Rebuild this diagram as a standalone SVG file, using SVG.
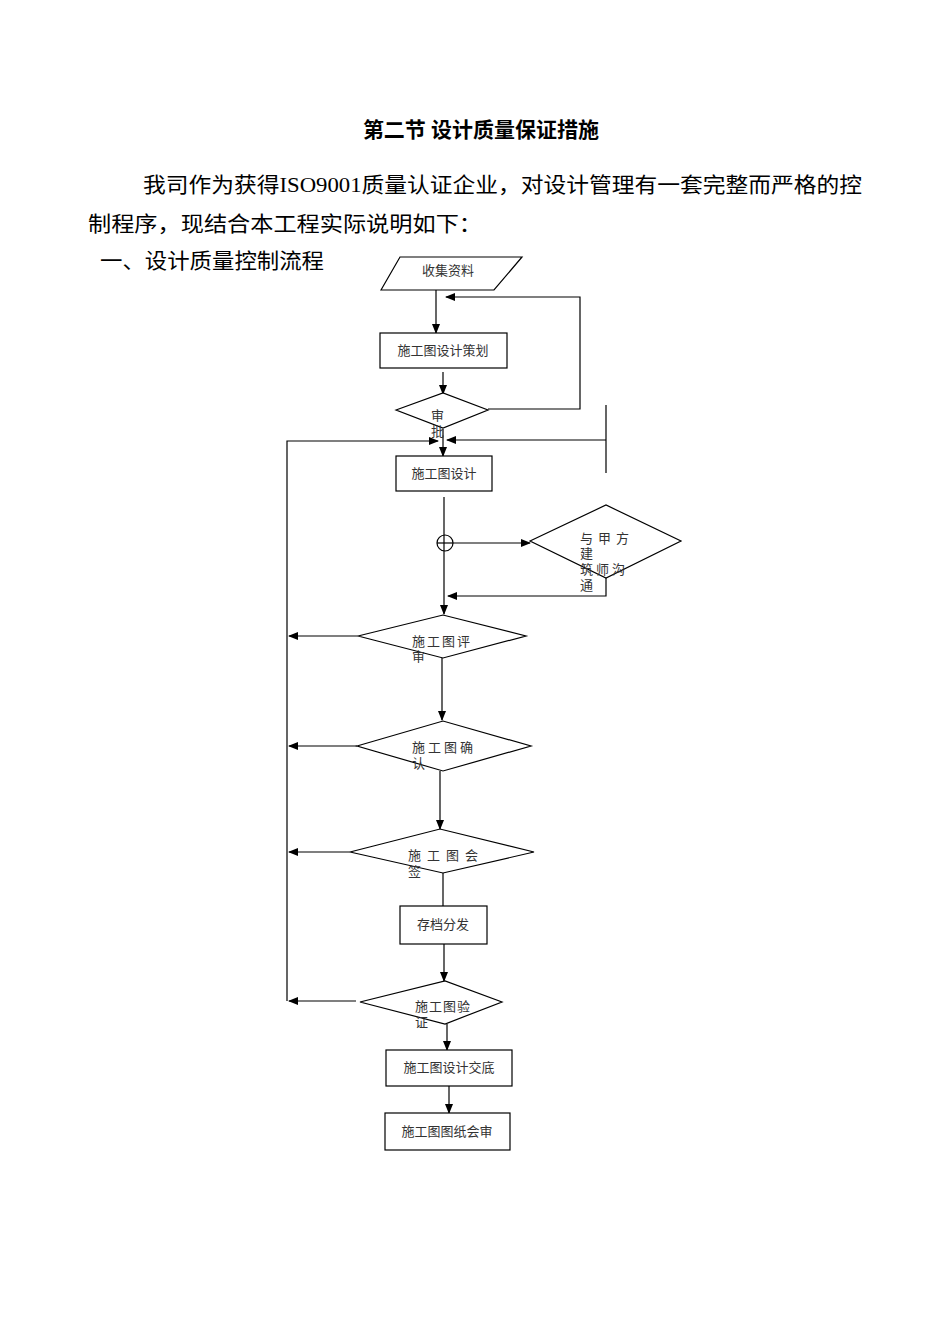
<svg xmlns="http://www.w3.org/2000/svg" width="950" height="1344" viewBox="0 0 950 1344">
<style>
.t{font-family:"Liberation Serif","Noto Sans CJK SC",serif;fill:#000}
.s{font-family:"Liberation Serif","Noto Sans CJK SC",serif;font-size:13px;fill:#333}
.n{fill:#fff;stroke:#000;stroke-width:1.2}
.c{fill:none;stroke:#000;stroke-width:1.2}
</style>
<defs><marker id="a" markerWidth="10" markerHeight="8" refX="9" refY="4" orient="auto" markerUnits="userSpaceOnUse"><path d="M0,0L10,4L0,8z" fill="#000"/></marker></defs>
<rect width="950" height="1344" fill="#fff"/>
<text class="t" x="481" y="137" font-size="21" font-weight="bold" text-anchor="middle">第二节 设计质量保证措施</text>
<text class="t" x="143" y="192" font-size="21" textLength="719" lengthAdjust="spacingAndGlyphs">我司作为获得ISO9001质量认证企业，对设计管理有一套完整而严格的控</text>
<text class="t" x="88" y="231" font-size="21" textLength="394" lengthAdjust="spacingAndGlyphs">制程序，现结合本工程实际说明如下：</text>
<text class="t" x="100" y="268" font-size="21" textLength="224" lengthAdjust="spacingAndGlyphs">一、设计质量控制流程</text>
<g id="connectors">
<path class="c" d="M436,290V333" marker-end="url(#a)"/>
<path class="c" d="M488,409H580V297H446" marker-end="url(#a)"/>
<path class="c" d="M443,372V394" marker-end="url(#a)"/>
<path class="c" d="M287,1001V441H438" marker-end="url(#a)"/>
<path class="c" d="M606,405V473M606,440H447" marker-end="url(#a)"/>
<path class="c" d="M443,429V456" marker-end="url(#a)"/>
<path class="c" d="M444,497V614" marker-end="url(#a)"/>
<circle class="c" cx="445" cy="543" r="8"/><path class="c" d="M437,543H453"/>
<path class="c" d="M453,543H530" marker-end="url(#a)"/>
<path class="c" d="M606,578V596H448" marker-end="url(#a)"/>
<path class="c" d="M358,636H289" marker-end="url(#a)"/>
<path class="c" d="M442,658V720" marker-end="url(#a)"/>
<path class="c" d="M357,746H289" marker-end="url(#a)"/>
<path class="c" d="M440,771V829" marker-end="url(#a)"/>
<path class="c" d="M350,852H289" marker-end="url(#a)"/>
<path class="c" d="M443,873V906"/>
<path class="c" d="M444,944V981" marker-end="url(#a)"/>
<path class="c" d="M356,1001H289" marker-end="url(#a)"/>
<path class="c" d="M447,1024V1050" marker-end="url(#a)"/>
<path class="c" d="M449,1086V1113" marker-end="url(#a)"/>
</g>
<g id="n1"><path class="n" d="M381,290L400,257H522L494,290Z"/><text class="s" x="448" y="275" text-anchor="middle">收集资料</text></g>
<g id="n2"><rect class="n" x="380" y="333" width="127" height="35"/><text class="s" x="443" y="355" text-anchor="middle">施工图设计策划</text></g>
<g id="n3"><path class="n" d="M396,410L443,393L488,410L443,428Z"/><text class="s" x="431" y="420">审</text><text class="s" x="431" y="436">批</text></g>
<g id="n4"><rect class="n" x="396" y="456" width="96" height="35"/><text class="s" x="444" y="478" text-anchor="middle">施工图设计</text></g>
<g id="n5"><path class="n" d="M530,541L606,505L681,541L606,578Z"/><text class="s" x="580" y="543" letter-spacing="5">与甲方</text><text class="s" x="580" y="558">建</text><text class="s" x="580" y="574" letter-spacing="3">筑师沟</text><text class="s" x="580" y="590">通</text></g>
<g id="n6"><path class="n" d="M358,636L443,615L526,636L443,658Z"/><text class="s" x="412" y="646" letter-spacing="2">施工图评</text><text class="s" x="412" y="661">审</text></g>
<g id="n7"><path class="n" d="M357,746L443,721L531,746L443,771Z"/><text class="s" x="412" y="752" letter-spacing="3">施工图确</text><text class="s" x="412" y="768">认</text></g>
<g id="n8"><path class="n" d="M350,852L440,829L534,852L443,873Z"/><text class="s" x="408" y="860" letter-spacing="6">施工图会</text><text class="s" x="408" y="876">签</text></g>
<g id="n9"><rect class="n" x="400" y="906" width="87" height="38"/><text class="s" x="443" y="929" text-anchor="middle">存档分发</text></g>
<g id="n10"><path class="n" d="M360,1002L445,981L502,1002L445,1024Z"/><text class="s" x="415" y="1011" letter-spacing="1">施工图验</text><text class="s" x="415" y="1027">证</text></g>
<g id="n11"><rect class="n" x="386" y="1050" width="126" height="36"/><text class="s" x="449" y="1072" text-anchor="middle">施工图设计交底</text></g>
<g id="n12"><rect class="n" x="385" y="1113" width="125" height="37"/><text class="s" x="447" y="1136" text-anchor="middle">施工图图纸会审</text></g>
</svg>
